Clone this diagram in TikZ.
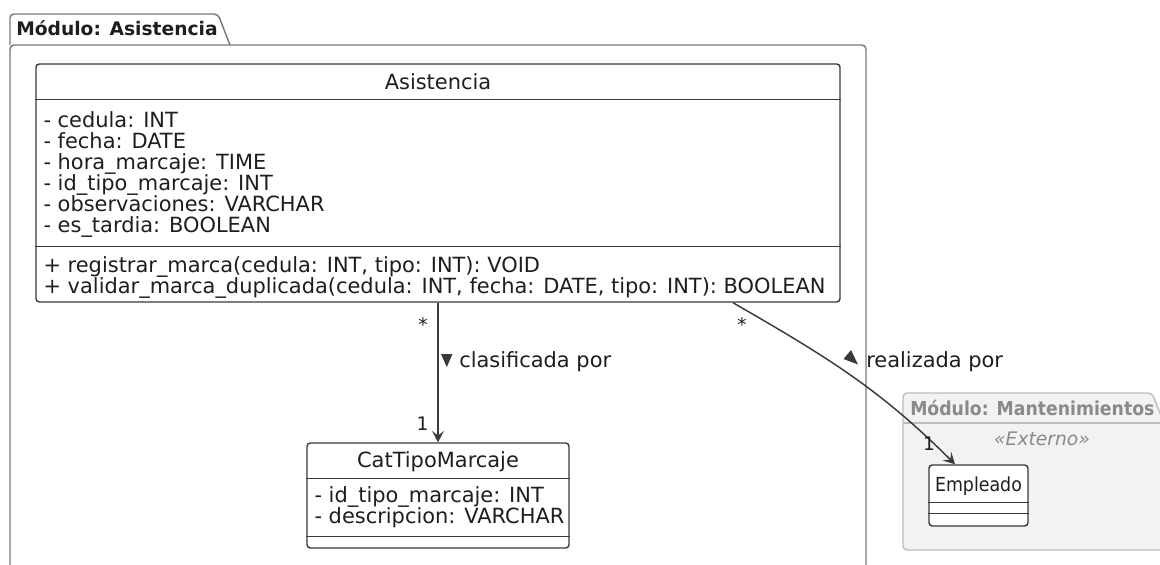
\documentclass[tikz,border=0pt]{standalone}
\usepackage{fontspec}
\setmainfont{DejaVu Sans}
\newfontfamily\condfont{DejaVu Sans Condensed}
\usetikzlibrary{positioning,calc,arrows.meta}
\definecolor{pkgline}{HTML}{7A7A7A}
\definecolor{classline}{HTML}{3A3A3A}
\definecolor{extfill}{HTML}{F2F2F2}
\definecolor{extline}{HTML}{BBBBBB}
\definecolor{exttext}{HTML}{8A8A8A}
\definecolor{txt}{HTML}{1E1E1E}
\tikzset{pkgframe/.style={draw=pkgline, line width=1.1pt, rounded corners=3pt}}
\tikzset{extframe/.style={draw=extline, fill=extfill, line width=1pt, rounded corners=3pt}}
\tikzset{pkgttl/.style={anchor=base west, inner sep=0pt, text=txt, font=\fontsize{14}{14}\selectfont\bfseries}}
\tikzset{umlbox/.style={draw=classline, line width=1.1pt, rounded corners=2.5pt, fill=white, inner sep=0pt}}
\tikzset{memb/.style={anchor=base west, inner sep=0pt, text=txt, font=\fontsize{15.7}{15.7}\selectfont}}
\tikzset{ttl/.style={anchor=base, inner sep=0pt, text=txt, font=\fontsize{15.7}{15.7}\selectfont}}
\tikzset{mult/.style={inner sep=0pt, text=txt, font=\fontsize{14}{14}\selectfont}}
\tikzset{assoc/.style={draw=classline, line width=1.1pt, -{Stealth[length=8.5pt,width=9pt,inset=3.5pt]}}}
\tikzset{sep/.style={draw=classline, line width=1.1pt}}
\begin{document}
\begin{tikzpicture}[x=0.75pt,y=-0.75pt]
\useasboundingbox (0,0) rectangle (1160,564);
\clip (0,0) rectangle (1160,564);

% paquete Asistencia
\draw[pkgframe] (10,45) -- (10,14) -- (218,14) -- (230,45);
\draw[pkgframe] (10,600) -- (10,45) -- (866,45) -- (866,600);
\node[pkgttl] (pkgasis) at (16,36) {Módulo: Asistencia};

% paquete externo
\filldraw[extframe] (903,550) -- (903,393) -- (1152,393) -- (1164,423) -- (1200,423) -- (1200,550) -- cycle;
\draw[extline, line width=1pt] (903,423) -- (1164,423);
\node[pkgttl, text=exttext, font=\fontsize{14.4}{14.4}\selectfont\condfont\bfseries] (pkgmant) at (910,415) {Módulo: Mantenimientos};
\node[ttl, text=exttext, font=\fontsize{14}{14}\selectfont\itshape] (stereo) at (1042,445) {«Externo»};

% clase Asistencia
\node[umlbox, minimum width=603pt, minimum height=178.5pt] (asis) at (438,183) {};
\draw[sep] ($(asis.north west)+(0,36)$) -- ($(asis.north east)+(0,36)$);
\draw[sep] ($(asis.north west)+(0,183)$) -- ($(asis.north east)+(0,183)$);
\node[ttl] (asisname) at ($(asis.north)+(0,26)$) {Asistencia};
\foreach \attr [count=\i from 0] in {- cedula: INT, - fecha: DATE, - hora\_marcaje: TIME,
    - id\_tipo\_marcaje: INT, - observaciones: VARCHAR, - es\_tardia: BOOLEAN}
  \node[memb] (asisattr\i) at ($(asis.north west)+(8,64+21*\i)$) {\attr};
\foreach \op [count=\i from 0] in {{+ registrar\_marca(cedula: INT, tipo: INT): VOID},
    {+ validar\_marca\_duplicada(cedula: INT, fecha: DATE, tipo: INT): BOOLEAN}}
  \node[memb] (asisop\i) at ($(asis.north west)+(8,209+21*\i)$) {\op};

% clase CatTipoMarcaje
\node[umlbox, minimum width=196.5pt, minimum height=78.75pt] (cat) at (438,495.5) {};
\draw[sep] ($(cat.north west)+(0,36)$) -- ($(cat.north east)+(0,36)$);
\draw[sep] ($(cat.north west)+(0,94)$) -- ($(cat.north east)+(0,94)$);
\node[ttl] (catname) at ($(cat.north)+(0,25)$) {CatTipoMarcaje};
\node[memb] (catattr0) at ($(cat.north west)+(8,60)$) {- id\_tipo\_marcaje: INT};
\node[memb] (catattr1) at ($(cat.north west)+(8,81)$) {- descripcion: VARCHAR};

% clase Empleado
\node[umlbox, minimum width=74.25pt, minimum height=45.75pt] (emp) at (978.5,495.5) {};
\draw[sep] ($(emp.north west)+(0,38)$) -- ($(emp.north east)+(0,38)$);
\draw[sep] ($(emp.north west)+(0,49)$) -- ($(emp.north east)+(0,49)$);
\node[ttl, font=\fontsize{14.5}{14.5}\selectfont\condfont] (empname) at ($(emp.north)+(0,27)$) {Empleado};

% asociaciones
\draw[assoc] (asis.south) -- (cat.north);
\node[mult] (m1) at ($(asis.south)+(-15,22)$) {*};
\node[mult] (m2) at ($(cat.north)+(-15.5,-19)$) {1};
\fill[classline] (441,354) -- (452.5,354) -- (446.8,367) -- cycle;
\node[memb] (lbl1) at (459,367) {clasificada por};

\draw[assoc] ($(asis.south)+(295,0)$) to[out=-30,in=135] ($(emp.north)+(-23.5,0)$);
\node[mult] (m3) at ($(asis.south)+(304,22)$) {*};
\node[mult] (m4) at ($(emp.north)+(-49.5,-21)$) {1};
\fill[classline] (843.5,359) -- (858,364.5) -- (851,350) -- cycle;
\node[memb] (lbl2) at (866,367) {realizada por};
\end{tikzpicture}
\end{document}
